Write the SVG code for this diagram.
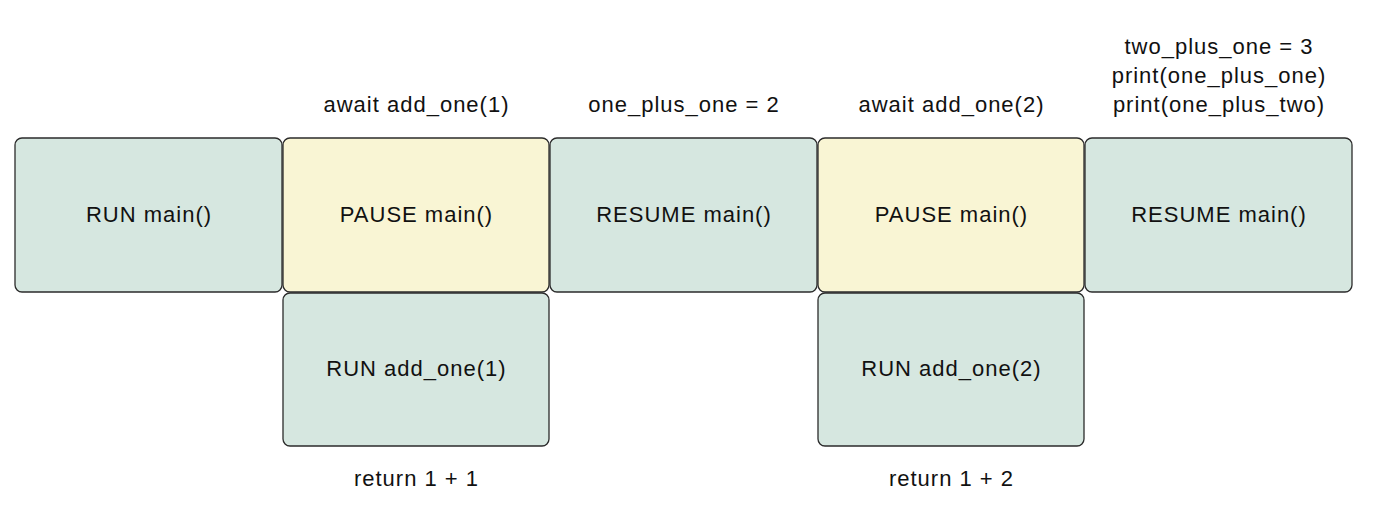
<svg xmlns="http://www.w3.org/2000/svg" width="1376" height="512" viewBox="0 0 1376 512">
<style>
.g{fill:#d6e7e0;stroke:#2b2b2b;stroke-width:1.3}
.y{fill:#f9f5d4;stroke:#2b2b2b;stroke-width:1.3}
text{font-family:"Liberation Sans",Arial,sans-serif;font-size:22px;letter-spacing:1px;fill:#111;text-anchor:middle}
</style>
<rect width="1376" height="512" fill="#fff"/>
<g id="connectors"></g>
<g id="n1"><rect class="g" x="15" y="138" width="267" height="154" rx="7"/><text x="149" y="222">RUN main()</text></g>
<g id="n2"><rect class="y" x="283" y="138" width="266" height="154" rx="7"/><text x="416.5" y="222">PAUSE main()</text><text x="416.5" y="112">await add_one(1)</text></g>
<g id="n3"><rect class="g" x="550" y="138" width="267" height="154" rx="7"/><text x="684" y="222">RESUME main()</text><text x="684" y="112">one_plus_one = 2</text></g>
<g id="n4"><rect class="y" x="818" y="138" width="266" height="154" rx="7"/><text x="951.5" y="222">PAUSE main()</text><text x="951.5" y="112">await add_one(2)</text></g>
<g id="n5"><rect class="g" x="1085" y="138" width="267" height="154" rx="7"/><text x="1219" y="222">RESUME main()</text><text x="1219" y="54">two_plus_one = 3</text><text x="1219" y="83">print(one_plus_one)</text><text x="1219" y="112">print(one_plus_two)</text></g>
<g id="n6"><rect class="g" x="283" y="293" width="266" height="153" rx="7"/><text x="416.5" y="376">RUN add_one(1)</text><text x="416.5" y="486">return 1 + 1</text></g>
<g id="n7"><rect class="g" x="818" y="293" width="266" height="153" rx="7"/><text x="951.5" y="376">RUN add_one(2)</text><text x="951.5" y="486">return 1 + 2</text></g>
</svg>
